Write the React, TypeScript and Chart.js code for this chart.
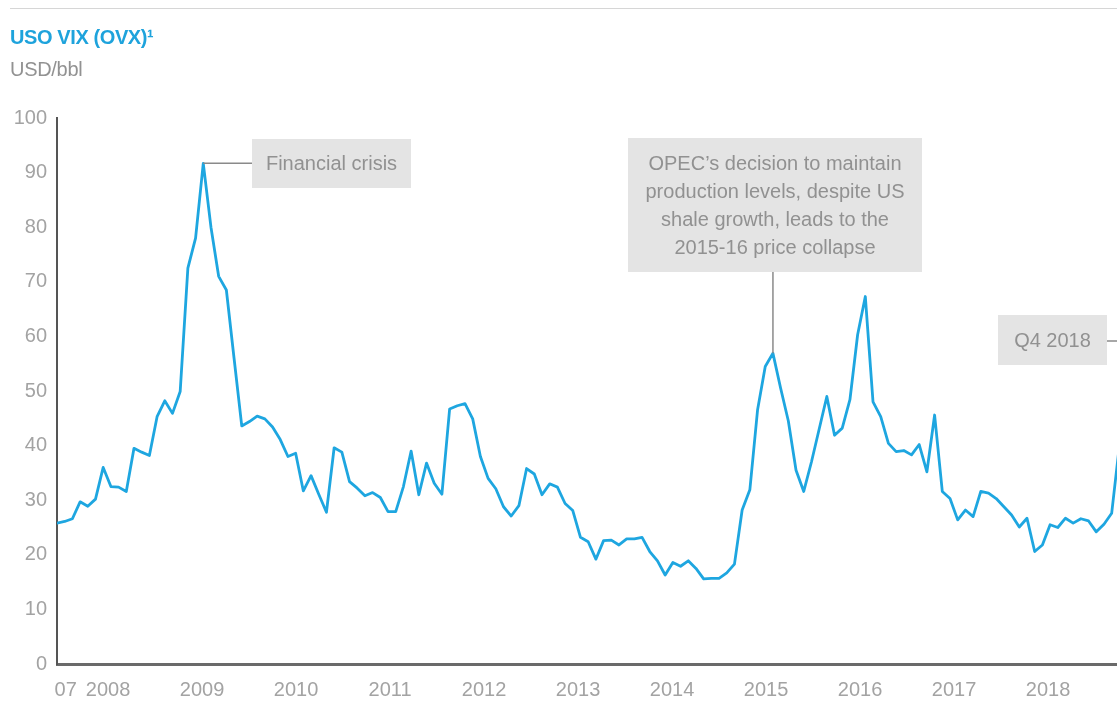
import React, { useEffect, useRef } from 'react';
import { Chart, registerables } from 'chart.js';

Chart.register(...registerables);

// ---- Data ----
const START_YEAR = 2007.457; // first observation (mid-2007)
const STEP_YEARS = 0.0819; // ~30-day sampling
const OVX_VALUES = [
  25.8, 26.1, 26.6, 29.7, 28.9, 30.2, 36.0, 32.5, 32.4, 31.6,
  39.5, 38.8, 38.2, 45.3, 48.2, 45.9, 49.9, 72.5, 78.0, 91.7,
  80.0, 71.0, 68.5, 56.0, 43.6, 44.4, 45.4, 44.9, 43.4, 41.1,
  38.0, 38.6, 31.7, 34.5, 31.1, 27.8, 39.6, 38.8, 33.4, 32.2,
  30.8, 31.4, 30.5, 27.9, 27.9, 32.5, 39.0, 31.0, 36.8, 33.1,
  31.1, 46.7, 47.3, 47.7, 44.9, 38.0, 34.0, 32.1, 28.8, 27.1,
  29.0, 35.8, 34.8, 31.0, 33.0, 32.4, 29.4, 28.1, 23.2, 22.4,
  19.2, 22.6, 22.7, 21.8, 22.9, 22.9, 23.2, 20.6, 18.9, 16.3,
  18.6, 17.9, 18.9, 17.5, 15.6, 15.7, 15.7, 16.7, 18.3, 28.2,
  31.9, 46.5, 54.5, 56.9, 50.5, 44.5, 35.5, 31.6, 37.0, 43.0,
  49.0, 41.9, 43.2, 48.4, 60.3, 67.3, 48.0, 45.3, 40.4, 38.9,
  39.1, 38.3, 40.2, 35.2, 45.6, 31.6, 30.3, 26.4, 28.2, 27.0,
  31.6, 31.3, 30.3, 28.8, 27.3, 25.1, 26.7, 20.6, 21.8, 25.5,
  25.0, 26.7, 25.8, 26.6, 26.2, 24.2, 25.6, 27.6, 40.0,
];
const DATES = OVX_VALUES.map((_, i) => START_YEAR + i * STEP_YEARS);
const X_MAX = 2018.734;

const TICK_VALUES = [2007.55, 2008, 2009, 2010, 2011, 2012, 2013, 2014, 2015, 2016, 2017, 2018];
const TICK_LABELS = ['07', '2008', '2009', '2010', '2011', '2012', '2013', '2014', '2015', '2016', '2017', '2018'];

const TITLE = 'USO VIX (OVX)¹';
const UNIT = 'USD/bbl';

const FIN_IDX = 19;
const FIN_TEXT = ['Financial crisis'];
const OPEC_IDX = 93;
const OPEC_TEXT = [
  'OPEC’s decision to maintain',
  'production levels, despite US',
  'shale growth, leads to the',
  '2015-16 price collapse',
];
const Q4_TEXT = ['Q4 2018'];

const FONT_FAMILY = '"Liberation Sans", Arial, Helvetica, sans-serif';
const LINE_COLOR = '#1ea6e0';
const LABEL_COLOR = '#a3a3a3';
const BOX_FILL = '#e4e4e4';
const BOX_TEXT = '#919191';
const CONNECTOR = '#8a8a8a';

const annotationPlugin = {
  id: 'ovxAnnotations',
  afterDraw(chart: any) {
    const { ctx } = chart;
    const xs = chart.scales.x;
    const ys = chart.scales.y;
    ctx.save();
    ctx.font = `20px ${FONT_FAMILY}`;
    ctx.textAlign = 'center';
    ctx.textBaseline = 'middle';

    const box = (x: number, y: number, w: number, h: number, lines: string[], firstY: number, lh: number) => {
      ctx.fillStyle = BOX_FILL;
      ctx.fillRect(x, y, w, h);
      ctx.fillStyle = BOX_TEXT;
      lines.forEach((t, k) => ctx.fillText(t, x + w / 2, firstY + k * lh));
    };
    const seg = (x1: number, y1: number, x2: number, y2: number) => {
      ctx.strokeStyle = CONNECTOR;
      ctx.lineWidth = 1.5;
      ctx.beginPath();
      ctx.moveTo(x1, y1);
      ctx.lineTo(x2, y2);
      ctx.stroke();
    };

    // Financial crisis
    const fx = xs.getPixelForValue(DATES[FIN_IDX]);
    const fy = ys.getPixelForValue(OVX_VALUES[FIN_IDX]);
    seg(fx, fy, 252, fy);
    box(252, 139, 159, 49, FIN_TEXT, 164, 0);

    // OPEC
    const ox = xs.getPixelForValue(DATES[OPEC_IDX]);
    const oy = ys.getPixelForValue(OVX_VALUES[OPEC_IDX]);
    seg(ox, 272, ox, oy);
    box(628, 138, 294, 134, OPEC_TEXT, 164, 28.3);

    // Q4 2018
    seg(1107, 341, 1117, 341);
    box(998, 315, 109, 50, Q4_TEXT, 341, 0);

    ctx.restore();
  },
};

export default function App() {
  const canvasRef = useRef<HTMLCanvasElement | null>(null);

  useEffect(() => {
    document.body.style.margin = '0';
    const canvas = canvasRef.current;
    if (!canvas) return;
    Chart.defaults.font.family = FONT_FAMILY;

    const chart = new Chart(canvas, {
      type: 'line',
      data: {
        datasets: [
          {
            data: OVX_VALUES.map((v, i) => ({ x: DATES[i], y: v })),
            borderColor: LINE_COLOR,
            borderWidth: 2.8,
            borderJoinStyle: 'round',
            borderCapStyle: 'round',
            pointRadius: 0,
            tension: 0,
            fill: false,
          },
        ],
      },
      options: {
        responsive: false,
        animation: false,
        events: [],
        layout: { padding: { top: 118, right: 0, left: 0, bottom: 0 } },
        plugins: {
          legend: { display: false },
          tooltip: { enabled: false },
          title: { display: false },
        },
        scales: {
          x: {
            type: 'linear',
            min: START_YEAR,
            max: X_MAX,
            afterBuildTicks: (scale: any) => {
              scale.ticks = TICK_VALUES.map((v) => ({ value: v }));
            },
            afterFit: (scale: any) => {
              scale.height = 38;
            },
            ticks: {
              autoSkip: false,
              maxRotation: 0,
              padding: 14,
              color: LABEL_COLOR,
              font: { size: 20 },
              callback: (value: any) => {
                const k = TICK_VALUES.indexOf(Number(value));
                return k >= 0 ? TICK_LABELS[k] : '';
              },
            },
            grid: { display: false, drawTicks: false },
            border: { display: true, color: '#6a6a6a', width: 3 },
          },
          y: {
            min: 0,
            max: 100,
            afterFit: (scale: any) => {
              scale.width = 57;
            },
            ticks: {
              stepSize: 10,
              padding: 10,
              color: LABEL_COLOR,
              font: { size: 20 },
            },
            grid: { display: false, drawTicks: false },
            border: { display: true, color: '#555555', width: 2 },
          },
        },
      },
      plugins: [annotationPlugin],
    });

    return () => {
      chart.destroy();
    };
  }, []);

  return (
    <div style={{ position: 'relative', width: 1117, height: 702, overflow: 'hidden', background: '#fff' }}>
      <canvas ref={canvasRef} width={1117} height={702} style={{ display: 'block', position: 'absolute', left: 0, top: 0 }} />
      <div style={{ position: 'absolute', left: 10, top: 8, width: 1107, height: 1, background: '#d6d6d6' }} />
      <div
        style={{
          position: 'absolute',
          left: 10,
          top: 26,
          color: '#1ea3dc',
          fontFamily: FONT_FAMILY,
          fontWeight: 'bold',
          fontSize: 20,
          letterSpacing: -0.4,
          whiteSpace: 'nowrap',
        }}
      >
        {TITLE}
      </div>
      <div
        style={{
          position: 'absolute',
          left: 10,
          top: 58,
          color: '#929292',
          fontFamily: FONT_FAMILY,
          fontSize: 20,
          letterSpacing: -0.3,
          whiteSpace: 'nowrap',
        }}
      >
        {UNIT}
      </div>
    </div>
  );
}
